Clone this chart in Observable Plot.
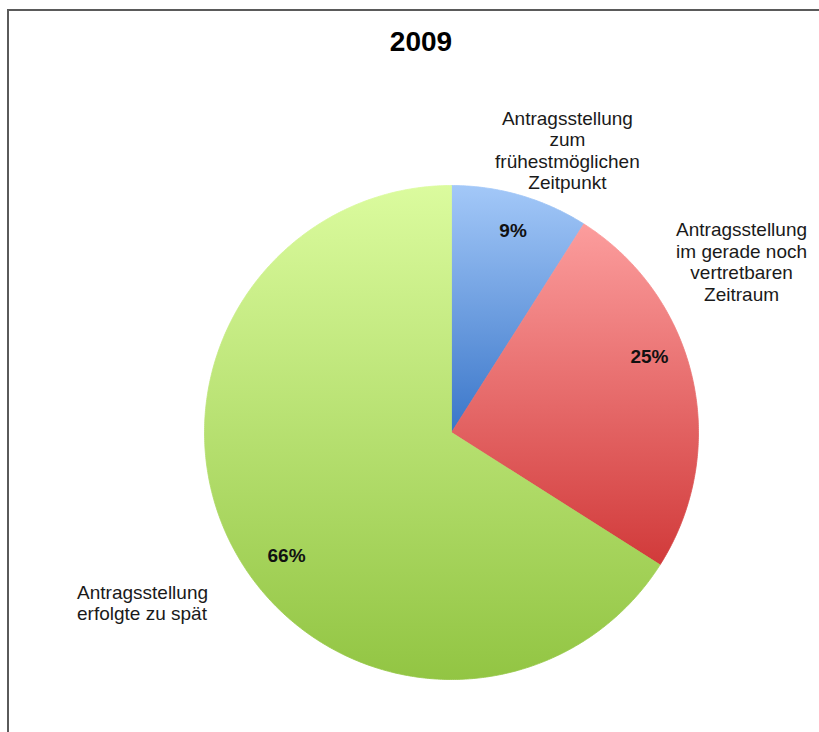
<!DOCTYPE html>
<html><head><meta charset="utf-8">
<script src="https://cdn.jsdelivr.net/npm/d3@7"></script>
<script src="https://cdn.jsdelivr.net/npm/@observablehq/plot@0.6"></script>
<style>
body{margin:0;background:#fff;}
#wrap{position:relative;width:819px;height:732px;overflow:hidden;background:#fff;}
#frame{position:absolute;left:7px;top:9px;width:900px;height:900px;border-left:2px solid #5a5a5a;border-top:2px solid #5a5a5a;pointer-events:none;}
</style></head><body>
<div id="wrap"><div id="chart"></div><div id="frame"></div></div>
<script>
// ---- data ----
const chartTitle = "2009";
const categories = [
  "Antragsstellung\nzum\nfrühestmöglichen\nZeitpunkt",
  "Antragsstellung\nim gerade noch\nvertretbaren\nZeitraum",
  "Antragsstellung\nerfolgte zu spät"
];
const values = [9, 25, 66];
const percentLabels = ["9%", "25%", "66%"];

// ---- styles ----
const gradients = [
  ["#a3c8f8", "#3a76c9"],
  ["#fc9d9d", "#d13a3a"],
  ["#dbfb9e", "#92c543"]
];
const pctOffsets = [[3, 0], [-7, -30], [19, 22]];
const catOffsets = [[47, -45, "middle"], [49, -117, "middle"], [-158, 51, "start"]];
const font = "Liberation Sans, Arial, sans-serif";

// ---- geometry from data ----
const arcs = d3.pie().sort(null).value(d => d)(values);
const pt = (a, r) => ({x: r * Math.sin(a), y: r * Math.cos(a)});
const slicePoints = arcs.map((a, i) => {
  const pts = [{x: 0, y: 0}];
  const n = Math.max(2, Math.ceil((a.endAngle - a.startAngle) / (Math.PI / 360)));
  for (let k = 0; k <= n; k++) pts.push(pt(a.startAngle + (a.endAngle - a.startAngle) * k / n, 1));
  pts.push({x: 0, y: 0});
  return pts;
});
const mids = arcs.map(a => (a.startAngle + a.endAngle) / 2);

const marks = [];
slicePoints.forEach((pts, i) => {
  marks.push(Plot.line(pts, {x: "x", y: "y", fill: `url(#g${i})`, stroke: `url(#g${i})`, strokeWidth: 0.8, curve: "linear"}));
});
arcs.forEach((a, i) => {
  const p = pt(mids[i], 0.85);
  marks.push(Plot.text([{...p, t: percentLabels[i]}], {x: "x", y: "y", text: "t", fontSize: 19, fontWeight: "bold", fill: "#111", fontFamily: font, dx: pctOffsets[i][0], dy: pctOffsets[i][1]}));
  const q = pt(mids[i], 1);
  marks.push(Plot.text([{...q, t: categories[i]}], {x: "x", y: "y", text: "t", fontSize: 19, lineHeight: 1.13, lineAnchor: "middle", textAnchor: catOffsets[i][2], fill: "#1a1a1a", fontFamily: font, dx: catOffsets[i][0], dy: catOffsets[i][1]}));
});
marks.push(Plot.text([chartTitle], {frameAnchor: "top", text: d => d, fontSize: 28, fontWeight: "bold", fill: "#000", fontFamily: font, dx: 11, dy: 42, lineAnchor: "middle"}));

const chart = Plot.plot({
  width: 819, height: 732,
  margin: 0,
  x: {domain: [-1, 1], range: [204, 698], axis: null},
  y: {domain: [-1, 1], range: [679, 185], axis: null},
  style: {background: "transparent", fontFamily: font},
  marks
});
const defs = d3.create("svg:defs");
gradients.forEach((g, i) => {
  const lg = defs.append("linearGradient").attr("id", `g${i}`).attr("x1", 0).attr("y1", 0).attr("x2", 0).attr("y2", 1);
  lg.append("stop").attr("offset", "0%").attr("stop-color", g[0]);
  lg.append("stop").attr("offset", "100%").attr("stop-color", g[1]);
});
chart.insertBefore(defs.node(), chart.firstChild);
document.getElementById("chart").appendChild(chart);
</script>
</body></html>
